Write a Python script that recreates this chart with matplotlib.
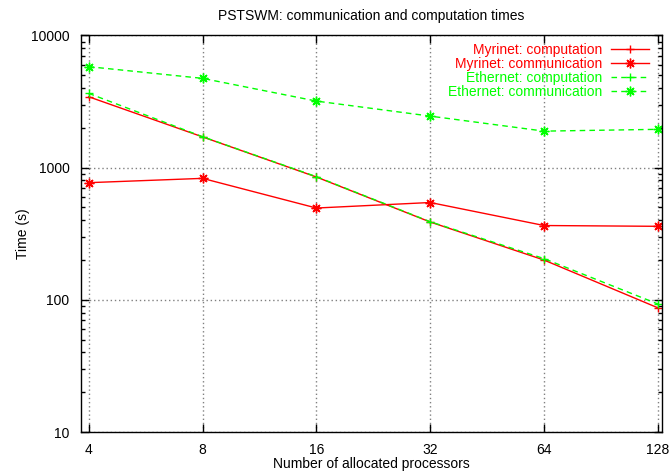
import matplotlib
matplotlib.use("Agg")
import matplotlib.pyplot as plt
from matplotlib.ticker import FixedLocator, FixedFormatter, LogLocator, NullFormatter

plt.rcParams["font.family"] = ["Liberation Sans", "DejaVu Sans"]
plt.rcParams["font.size"] = 10

procs = [4, 8, 16, 32, 64, 128]
myrinet_comp = [3440, 1710, 850, 388, 200, 87]
myrinet_comm = [770, 830, 495, 545, 365, 360]
ethernet_comp = [3650, 1715, 855, 390, 205, 93]
ethernet_comm = [5810, 4740, 3190, 2455, 1890, 1950]

red = "#ff0000"
green = "#00ff00"
star = (8, 2, 0)

fig = plt.figure(figsize=(6.69, 4.72), dpi=100)
ax = fig.add_axes([0.1206, 0.0847, 0.8689, 0.8401])

ax.plot(procs, myrinet_comp, color=red, lw=1, marker="+", ms=6, mew=1,
        label="Myrinet: computation")
ax.plot(procs, myrinet_comm, color=red, lw=1, marker=star, ms=7, mew=1,
        label="Myrinet: communication")
ax.plot(procs, ethernet_comp, color=green, lw=1, ls=(0, (4, 3)), marker="+",
        ms=6, mew=1, label="Ethernet: computation")
ax.plot(procs, ethernet_comm, color=green, lw=1, ls=(0, (4, 3)), marker=star,
        ms=7, mew=1, label="Ethernet: communication")

ax.set_xscale("log", base=2)
ax.set_yscale("log")
ax.set_xlim(3.81, 131.2)
ax.set_ylim(10, 10000)

ax.xaxis.set_major_locator(FixedLocator(procs))
ax.xaxis.set_major_formatter(FixedFormatter([str(p) for p in procs]))
ax.xaxis.set_minor_locator(FixedLocator([]))
ax.yaxis.set_major_locator(FixedLocator([10, 100, 1000, 10000]))
ax.yaxis.set_major_formatter(FixedFormatter(["10", "100", "1000", "10000"]))
ax.yaxis.set_minor_locator(LogLocator(base=10, subs=range(2, 10)))
ax.yaxis.set_minor_formatter(NullFormatter())

ax.tick_params(which="both", direction="in", top=True, right=True, colors="black")
ax.tick_params(which="major", length=6, width=1)
ax.tick_params(which="minor", length=3, width=1)
ax.tick_params(axis="x", which="major", pad=8)
ax.tick_params(axis="y", which="major", pad=8)

ax.grid(True, which="major", color="#808080", ls=(0, (1, 2)), lw=1)
for s in ax.spines.values():
    s.set_linewidth(1)
    s.set_color("black")

ax.set_title("PSTSWM: communication and computation times", fontsize=10, pad=11)
ax.set_xlabel("Number of allocated processors", labelpad=0)
ax.set_ylabel("Time (s)", labelpad=1)

ax.legend(loc="upper right", bbox_to_anchor=(0.99, 1.0), frameon=False,
          markerfirst=False, labelcolor="linecolor", handlelength=2.7,
          handletextpad=0.6, labelspacing=0.0, borderaxespad=0.15)

fig.savefig("out.png", dpi=100)
